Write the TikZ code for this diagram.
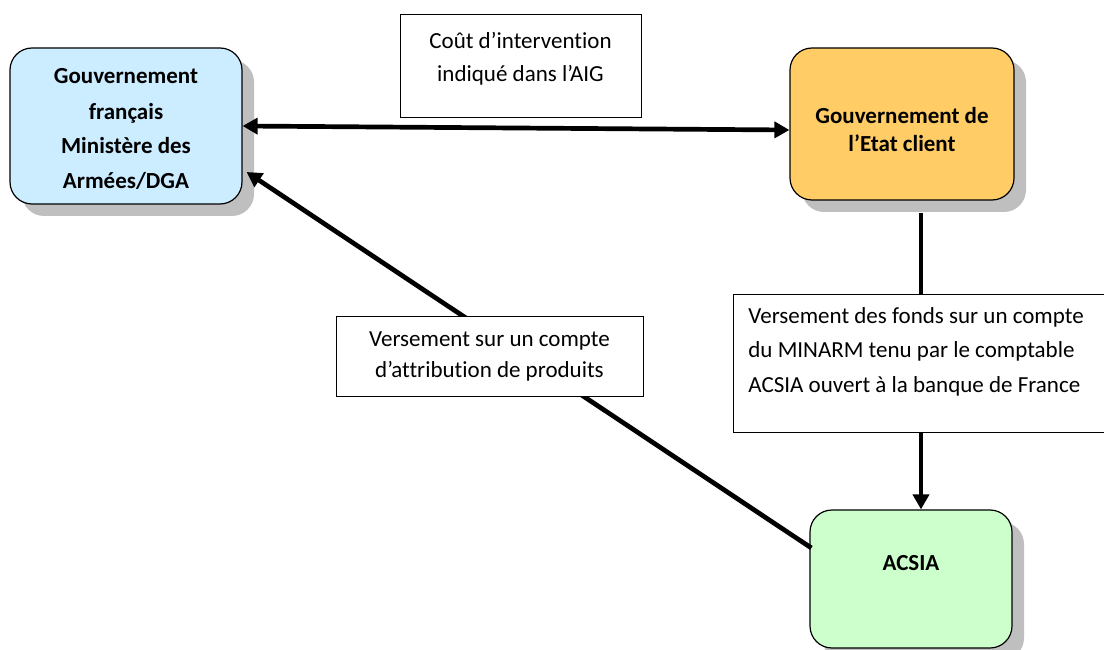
\documentclass[tikz,border=0pt]{standalone}
\usepackage{fontspec}
\setmainfont{Carlito}[Ligatures=NoCommon]
\usetikzlibrary{shadows,arrows.meta,calc}
\definecolor{bluefill}{HTML}{CCECFF}
\definecolor{orangefill}{HTML}{FFCC66}
\definecolor{greenfill}{HTML}{CCFFCC}
\definecolor{shadowgray}{HTML}{BFBFBF}
\begin{document}
\begin{tikzpicture}[x=1pt,y=-1pt,
  box/.style={draw=black, line width=1.2pt, rounded corners=22pt, align=center,
    font=\fontsize{23}{35}\selectfont\bfseries,
    drop shadow={shadow xshift=12pt, shadow yshift=-12pt, fill=shadowgray, opacity=1}},
  lab/.style={draw=black, line width=0.8pt, fill=white, align=center},
  conn/.style={line width=4.7pt, -{Triangle[length=15pt,width=16pt]}},
  bothtips/.style={{Triangle[length=15pt,width=16pt]}-{Triangle[length=15pt,width=16pt]}},
]
\useasboundingbox (0,0) rectangle (1104,650);
\clip (0,0) rectangle (1104,650);

% main boxes
\node[box, fill=bluefill, minimum width=232pt, minimum height=156pt,
  text height=126pt, text depth=0pt] (gf) at (126,126)
  {Gouvernement\\français\\Ministère des\\Armées/DGA};
\node[box, fill=orangefill, minimum width=224pt, minimum height=152pt, text height=55pt,
  font=\fontsize{23}{28}\selectfont\bfseries] (ec) at (902,124)
  {Gouvernement de\\l’Etat client};
\node[box, fill=greenfill, minimum width=202pt, minimum height=138pt,
  text height=17pt, text depth=35pt] (ac) at (911,579) {ACSIA};

% connectors
\draw[conn, bothtips] (gf.east) -- ($(ec.west)+(0,6)$);
\draw[conn] ($(ec.south)+(19,12)$) -- ($(ac.north)+(10,0)$);
\draw[conn] ($(ac.west)+(2,-31)$) -- ($(gf.east)+(4,46)$);

% labels
\node[lab, minimum width=241pt, minimum height=103pt, text depth=17pt,
  font=\fontsize{23}{33}\selectfont] (l1) at (520.5,65.5)
  {Coût d’intervention\\indiqué dans l’AIG};
\node[lab, minimum width=307pt, minimum height=80pt, text depth=2pt,
  font=\fontsize{23}{31}\selectfont] (l2) at (489.5,356)
  {Versement sur un compte\\d’attribution de produits};
\node[lab, anchor=north west, align=flush left, text width=360pt, inner xsep=15pt,
  inner ysep=10pt, text height=19pt, text depth=99pt,
  font=\fontsize{23}{34.5}\selectfont] (l3) at (733,294)
  {Versement des fonds sur un compte\\du MINARM tenu par le comptable\\ACSIA ouvert à la banque de France};
\end{tikzpicture}
\end{document}
